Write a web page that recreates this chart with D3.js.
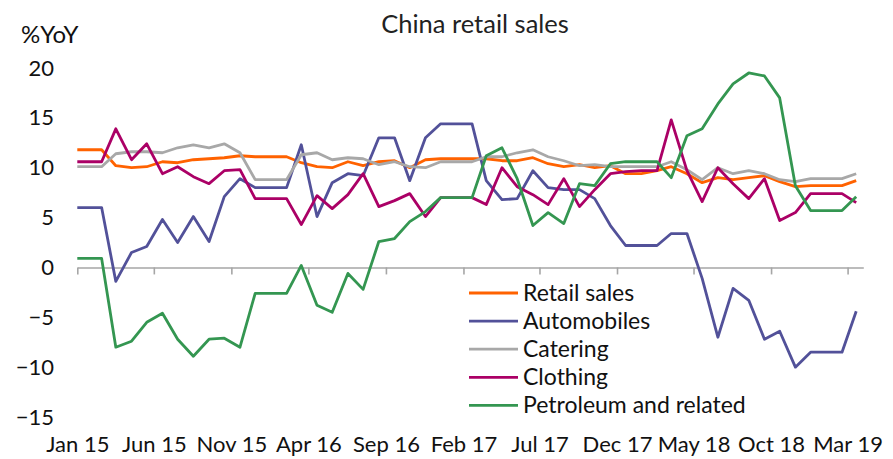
<!DOCTYPE html>
<html>
<head>
<meta charset="utf-8">
<script src="https://cdn.jsdelivr.net/npm/d3@7"></script>
<style>
  html, body { margin: 0; padding: 0; background: #fff; }
  svg { display: block; }
  text { font-family: Lato, "Liberation Sans", sans-serif; fill: #111; }
</style>
</head>
<body>
<svg id="chart" width="893" height="459"></svg>
<script>
// Monthly year-on-year growth, Jan 2015 – Mar 2019 (51 months)
const firstMonth = "2015-01";
const lastMonth = "2019-03";

const retailSales = [
  11.8, 11.8, 10.2, 10.0, 10.1, 10.6, 10.5, 10.8, 10.9, 11.0, 11.2, 11.1,
  11.1, 11.1, 10.5, 10.1, 10.0, 10.6, 10.2, 10.6, 10.7, 10.0, 10.8, 10.9,
  10.9, 10.9, 10.9, 10.7, 10.7, 11.0, 10.4, 10.1, 10.3, 10.0, 10.2, 9.4,
  9.4, 9.7, 10.1, 9.4, 8.5, 9.0, 8.8, 9.0, 9.2, 8.6, 8.1, 8.2,
  8.2, 8.2, 8.7
];
const automobiles = [
  6.0, 6.0, -1.4, 1.5, 2.1, 4.8, 2.5, 5.1, 2.6, 7.1, 8.9, 8.0,
  8.0, 8.0, 12.3, 5.1, 8.5, 9.4, 9.2, 13.0, 13.0, 8.7, 13.0, 14.4,
  14.4, 14.4, 8.7, 6.8, 6.9, 9.7, 8.0, 7.8, 7.8, 6.9, 4.2, 2.2,
  2.2, 2.2, 3.4, 3.4, -1.1, -7.0, -2.1, -3.3, -7.2, -6.4, -10.0, -8.5,
  -8.5, -8.5, -4.4
];
const catering = [
  10.1, 10.1, 11.4, 11.6, 11.6, 11.5, 12.0, 12.3, 12.0, 12.4, 11.5, 8.8,
  8.8, 8.8, 11.3, 11.5, 10.8, 11.0, 10.9, 10.3, 10.6, 10.1, 10.0, 10.6,
  10.6, 10.6, 11.1, 11.1, 11.5, 11.8, 11.1, 10.7, 10.2, 10.3, 10.1, 10.1,
  10.1, 10.1, 10.6, 9.8, 8.8, 10.0, 9.4, 9.7, 9.4, 8.8, 8.6, 8.9,
  8.9, 8.9, 9.4
];
const clothing = [
  10.6, 10.6, 13.9, 10.8, 12.4, 9.4, 10.1, 9.1, 8.4, 9.7, 9.8, 6.9,
  6.9, 6.9, 4.3, 7.2, 5.9, 7.3, 9.4, 6.1, 6.7, 7.4, 5.1, 7.0,
  7.0, 7.0, 6.3, 10.0, 8.1, 7.3, 6.3, 8.9, 6.1, 7.8, 9.4, 9.6,
  9.7, 9.7, 14.8, 9.7, 6.6, 10.0, 8.4, 6.9, 8.9, 4.7, 5.5, 7.4,
  7.4, 7.4, 6.5
];
const petroleum = [
  0.9, 0.9, -8.0, -7.4, -5.5, -4.6, -7.2, -8.9, -7.2, -7.1, -8.0, -2.6,
  -2.6, -2.6, 0.2, -3.8, -4.5, -0.6, -2.2, 2.6, 2.9, 4.6, 5.6, 7.0,
  7.0, 7.0, 11.2, 12.0, 8.9, 4.2, 5.5, 4.4, 8.4, 8.2, 10.4, 10.6,
  10.6, 10.6, 9.0, 13.2, 13.9, 16.4, 18.4, 19.5, 19.2, 17.0, 8.2, 5.7,
  5.7, 5.7, 7.1
];

const seriesNames = ["Retail sales", "Automobiles", "Catering", "Clothing", "Petroleum and related"];
const seriesColors = ["#FF6200", "#525199", "#A8A8A8", "#AB0066", "#349651"];
const seriesValues = [retailSales, automobiles, catering, clothing, petroleum];

const xTickLabels = ["Jan 15", "Jun 15", "Nov 15", "Apr 16", "Sep 16", "Feb 17",
                     "Jul 17", "Dec 17", "May 18", "Oct 18", "Mar 19"];
const yTicks = [-15, -10, -5, 0, 5, 10, 15, 20];

const title = "China retail sales";
const yUnit = "%YoY";

// ---- scales ----
const parseMonth = d3.timeParse("%Y-%m");
const start = parseMonth(firstMonth);
const end = d3.timeMonth.offset(parseMonth(lastMonth), 1);
const months = d3.timeMonth.range(start, end);
// each monthly observation sits mid-month
const obsDate = m => d3.timeDay.offset(m, 17);

const x = d3.scaleTime().domain([start, end]).range([77.3, 863.3]);
const y = d3.scaleLinear().domain([-15, 20]).range([417, 68]);

const svg = d3.select("#chart");
const labelFont = "Lato, 'Liberation Sans', sans-serif";

// title and unit
svg.append("text")
  .attr("x", 475).attr("y", 33)
  .attr("text-anchor", "middle")
  .style("font-size", "25.5px")
  .style("fill", "#222")
  .text(title);

svg.append("text")
  .attr("x", 21).attr("y", 43)
  .style("font-size", "24px")
  .text(yUnit);

// y tick labels (no axis line)
const yAxis = d3.axisLeft(y).tickValues(yTicks).tickSize(0).tickPadding(0).tickFormat(d3.format("d"));
const yG = svg.append("g").attr("transform", "translate(54,0)").call(yAxis);
yG.select(".domain").remove();
yG.selectAll("text")
  .style("font-size", "22px")
  .style("font-family", labelFont)
  .attr("fill", "#111");

// x axis line at zero with tick marks
const parseTick = d3.timeParse("%b %y");
const tickDates = xTickLabels.map(parseTick);
const xAxisLine = d3.axisBottom(x).tickValues(tickDates).tickSize(7).tickSizeOuter(0).tickFormat("");
const xG = svg.append("g").attr("transform", `translate(0,${y(0)})`).call(xAxisLine);
xG.select(".domain").attr("stroke", "#A6A6A6").attr("stroke-width", 1.6);
xG.selectAll(".tick line").attr("stroke", "#A6A6A6").attr("stroke-width", 1.6);

// x tick labels along the bottom
const xLabels = d3.axisBottom(x).tickValues(tickDates).tickSize(0).tickPadding(0)
  .tickFormat((d, i) => xTickLabels[i]);
const xlG = svg.append("g").attr("transform", "translate(0,436)").call(xLabels);
xlG.select(".domain").remove();
xlG.selectAll("text")
  .style("font-size", "22px")
  .style("font-family", labelFont)
  .attr("fill", "#111");

// series lines
const line = d3.line()
  .x(d => x(d.date))
  .y(d => y(d.value));

seriesValues.forEach((vals, si) => {
  const pts = months.map((m, i) => ({ date: obsDate(m), value: vals[i] }));
  // carry the opening value back to the start of the axis
  pts.unshift({ date: start, value: vals[0] });
  svg.append("path")
    .datum(pts)
    .attr("fill", "none")
    .attr("stroke", seriesColors[si])
    .attr("stroke-width", 2.8)
    .attr("stroke-linejoin", "round")
    .attr("d", line);
});

// legend
const legend = svg.append("g").attr("transform", "translate(469,293)");
seriesNames.forEach((name, i) => {
  const row = legend.append("g").attr("transform", `translate(0,${i * 28.1})`);
  row.append("line")
    .attr("x1", 0).attr("x2", 49)
    .attr("stroke", seriesColors[i])
    .attr("stroke-width", 2.8);
  row.append("text")
    .attr("x", 54).attr("y", 0)
    .attr("dy", "0.35em")
    .style("font-size", "23px")
    .text(name);
});
</script>
</body>
</html>
